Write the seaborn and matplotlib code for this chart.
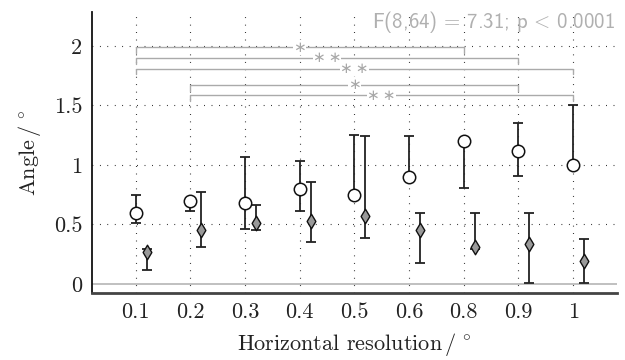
import numpy as np
import pandas as pd
import matplotlib
matplotlib.use("Agg")
import matplotlib.pyplot as plt
import seaborn as sns

# data
resolution = ['0.1', '0.2', '0.3', '0.4', '0.5', '0.6', '0.8', '0.9', '1']

circ_mean = [0.60, 0.70, 0.68, 0.80, 0.75, 0.90, 1.20, 1.12, 1.00]
circ_lo = [0.51, 0.61, 0.46, 0.61, 0.72, 0.88, 0.81, 0.91, 0.98]
circ_hi = [0.75, 0.72, 1.07, 1.03, 1.25, 1.24, 1.22, 1.35, 1.50]

diam_mean = [0.27, 0.45, 0.51, 0.53, 0.57, 0.45, 0.31, 0.34, 0.19]
diam_lo = [0.12, 0.31, 0.45, 0.35, 0.39, 0.18, 0.29, 0.01, 0.01]
diam_hi = [0.29, 0.77, 0.66, 0.86, 1.24, 0.60, 0.60, 0.60, 0.38]

# significance brackets (start category, end category, height, label)
br_start = ['0.1', '0.1', '0.1', '0.2', '0.2']
br_end = ['0.8', '0.9', '1', '0.9', '1']
br_height = [1.99, 1.90, 1.81, 1.675, 1.585]
br_label = ['\u2217', '\u2217\u2009\u2217', '\u2217\u2009\u2217', '\u2217', '\u2217\u2009\u2217']

stat_text = r'F(8,64)$\,=\,$7.31; p$\,<\,$0.0001'

sns.set_style('white')
plt.rcParams['font.family'] = ['cmr10', 'DejaVu Serif']
plt.rcParams['mathtext.fontset'] = 'cm'
plt.rcParams['axes.formatter.use_mathtext'] = True

pos = {r: i for i, r in enumerate(resolution)}
x = np.arange(len(resolution))

df = pd.DataFrame({
    'x': np.concatenate([x, x + 0.2]),
    'mean': circ_mean + diam_mean,
    'lo': circ_lo + diam_lo,
    'hi': circ_hi + diam_hi,
    'kind': ['circle'] * 9 + ['diamond'] * 9,
})

fig = plt.figure(figsize=(6.25, 3.6), dpi=100)
ax = fig.add_axes([0.147, 0.186, 0.84, 0.781])

dots = (0, (0.7, 6))
for i in x:
    ax.axvline(i, color='k', lw=0.8, ls=dots, zorder=0)
for v in [0.5, 1, 1.5, 2]:
    ax.axhline(v, color='k', lw=0.8, ls=dots, zorder=0)
ax.axhline(0, color='#bbbbbb', lw=1.3, zorder=1)

ax.errorbar(df['x'], df['mean'], yerr=[df['mean'] - df['lo'], df['hi'] - df['mean']],
            fmt='none', ecolor='#222222', elinewidth=1.3, capsize=3.5, capthick=1.3, zorder=2)

sns.scatterplot(data=df[df.kind == 'circle'], x='x', y='mean', marker='o', s=80,
                color='white', edgecolor='#111111', linewidth=1.1, ax=ax, zorder=3)
sns.scatterplot(data=df[df.kind == 'diamond'], x='x', y='mean', marker='d', s=55,
                color='#999999', edgecolor='#111111', linewidth=1.0, ax=ax, zorder=3)

for s, e, h, lab in zip(br_start, br_end, br_height, br_label):
    a, b = pos[s], pos[e]
    ax.plot([a, a, b, b], [h - 0.05, h, h, h - 0.05], color='#aaaaaa', lw=1.0, zorder=4)
    ax.text((a + b) / 2, h, lab, color='#a8a8a8', fontsize=11, ha='center', va='center',
            family=['DejaVu Sans'],
            bbox=dict(facecolor='white', edgecolor='none', pad=0.0), zorder=5)

ax.text(0.997, 0.965, stat_text, transform=ax.transAxes, ha='right', va='center',
        color='#b0b0b0', fontsize=15, family=['cmss10', 'DejaVu Sans'])

ax.set_xlim(-0.8, 8.8)
ax.set_ylim(-0.076, 2.286)
ax.set_xticks(x, resolution)
ax.set_yticks([0, 0.5, 1, 1.5, 2], ['0', '0.5', '1', '1.5', '2'])
ax.tick_params(axis='both', direction='in', length=4, width=1, colors='#222222',
               labelsize=16, labelcolor='#222222', pad=7)
ax.tick_params(axis='y', length=0)

ax.set_xlabel(r'Horizontal resolution$\,/\,^\circ$', fontsize=16, color='#222222', labelpad=6)
ax.set_ylabel(r'Angle$\,/\,^\circ$', fontsize=16, color='#222222', labelpad=8)

for side in ['top', 'right']:
    ax.spines[side].set_visible(False)
ax.spines['left'].set_color('#111111')
ax.spines['left'].set_linewidth(1.3)
ax.spines['bottom'].set_color('#444444')
ax.spines['bottom'].set_linewidth(2.0)

fig.savefig('out.png', dpi=100)
